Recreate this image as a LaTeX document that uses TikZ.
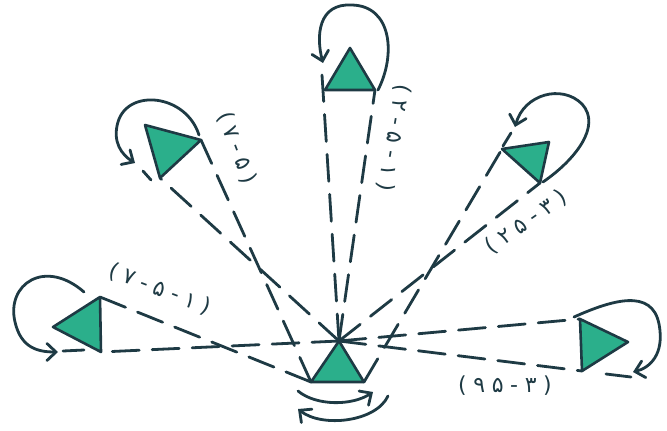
\documentclass[tikz,border=0pt]{standalone}
\usepackage{fontspec}
\usetikzlibrary{arrows.meta}
\newfontfamily\digitfont[LetterSpace=30]{DejaVu Sans}
\definecolor{inkdark}{HTML}{1E3A44}
\definecolor{trigreen}{HTML}{2BAF8B}

\begin{document}
\begin{tikzpicture}[x=1pt,y=-1pt,
  tri/.style={fill=trigreen, draw=inkdark, line width=2.6pt, line join=round},
  beam/.style={draw=inkdark, line width=2.8pt, dash pattern=on 27pt off 13pt, line cap=round},
  selfloop/.style={draw=inkdark, line width=2.8pt, line cap=round,
                   -{Straight Barb[length=9pt,width=17pt,line cap=round]}},
  tick/.style={draw=inkdark, line width=2.8pt, line cap=round},
  eqlbl/.style={font=\digitfont\fontsize{22}{24}\selectfont, text=inkdark, inner sep=1pt},
]
\useasboundingbox (0,0) rectangle (667,431);

%% ---- corners of the triangles ----
% centre
\coordinate (c-top)   at (339,341);
\coordinate (c-left)  at (311,382);
\coordinate (c-right) at (364,382);
% left
\coordinate (w-tip) at (53,327);
\coordinate (w-top) at (100,297);
\coordinate (w-bot) at (101,352);
% upper left
\coordinate (nw-a)   at (145,125);
\coordinate (nw-tip) at (201,140);
\coordinate (nw-b)   at (160,178);
% top
\coordinate (t-tip)   at (350,48);
\coordinate (t-left)  at (325,90);
\coordinate (t-right) at (375,90);
\coordinate (t-tick)  at (322,75);
% upper right
\coordinate (ne-a) at (502,149);
\coordinate (ne-b) at (549,142);
\coordinate (ne-c) at (540,183);
% right
\coordinate (e-a)   at (580,319);
\coordinate (e-tip) at (628,342);
\coordinate (e-b)   at (582,371);

%% ---- dashed beams to the centre ----
\draw[beam] (c-top)   -- (w-bot);
\draw[beam] (c-left)  -- (w-top);
\draw[beam] (c-top)   -- (nw-b);
\draw[beam] (c-left)  -- (nw-tip);
\draw[beam] (c-top)   -- (t-tick);
\draw[beam] (c-top)   -- (t-right);
\draw[beam] (c-top)   -- (ne-c);
\draw[beam] (c-right) -- (ne-a);
\draw[beam] (c-top)   -- (e-b);
\draw[beam] (c-top)   -- (e-a);

%% ---- triangles ----
\path[tri] (w-tip) -- (w-top) -- (w-bot) -- cycle;
\path[tri] (nw-a) -- (nw-tip) -- (nw-b) -- cycle;
\path[tri] (t-tip) -- (t-left) -- (t-right) -- cycle;
\path[tri] (ne-a) -- (ne-b) -- (ne-c) -- cycle;
\path[tri] (e-a) -- (e-tip) -- (e-b) -- cycle;
\path[tri] (c-top) -- (c-left) -- (c-right) -- cycle;

%% ---- self loops ----
\draw[selfloop] (84,292) .. controls (45,258) and (6,284) .. (15,322)
  .. controls (21,348) and (38,352) .. (58,352);
\draw[tick] (63,351) -- (84,350);

\draw[selfloop] (199,135) .. controls (186,94) and (128,88) .. (118,122)
  .. controls (112,142) and (122,155) .. (135,163);
\draw[tick] (143,171) -- (151,180);

\draw[selfloop] (378,90) .. controls (396,55) and (392,6) .. (352,5)
  .. controls (318,3) and (316,36) .. (323,63);

\draw[selfloop] (543,182) .. controls (575,160) and (602,126) .. (582,104)
  .. controls (562,84) and (524,94) .. (515,127);
\draw[tick] (511,133) -- (503,146);

\draw[selfloop] (574,317) .. controls (612,300) and (652,288) .. (659,324)
  .. controls (665,355) and (649,368) .. (633,372);
\draw[tick] (631,377) -- (606,374);

%% ---- spin arrows under the centre ----
\draw[selfloop] (298,391) .. controls (316,406) and (352,406) .. (373,392);
\draw[selfloop] (388,396) .. controls (376,422) and (322,428) .. (298,409);

%% ---- labels ----
\node[eqlbl, rotate=-21]  (lbl-w)  at (160,289) {(۷-۵-۱)};
\node[eqlbl, rotate=-69]  (lbl-nw) at (237,148) {(۷-۵)};
\node[eqlbl, rotate=-100] (lbl-t)  at (394,138) {(۲-۵-۱)};
\node[eqlbl, rotate=35]   (lbl-ne) at (526,222) {(۲۵-۳)};
\node[eqlbl]              (lbl-e)  at (505,386) {(۹۵-۳)};

\end{tikzpicture}
\end{document}
